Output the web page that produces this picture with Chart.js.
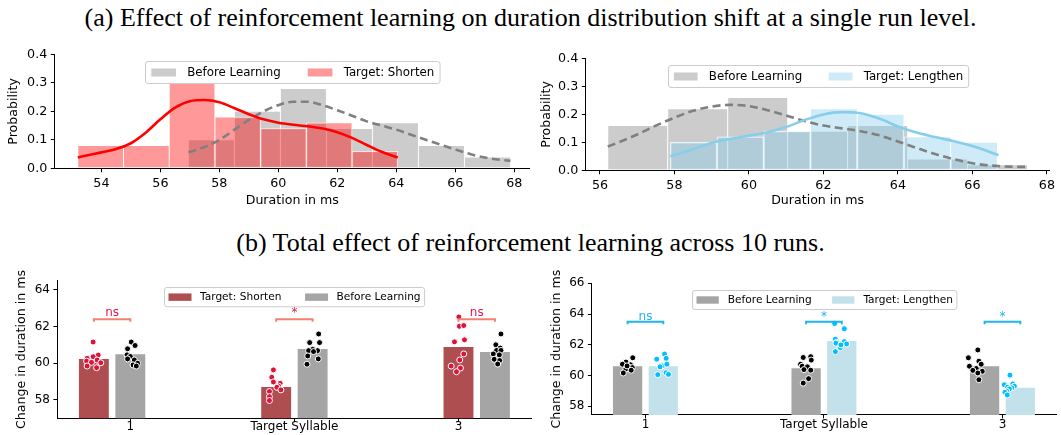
<!DOCTYPE html>
<html>
<head>
<meta charset="utf-8">
<script src="https://cdn.jsdelivr.net/npm/chart.js@4.4.1/dist/chart.umd.min.js"></script>
<style>
  body { margin: 0; background: #fff; width: 1061px; height: 435px; position: relative; overflow: hidden; }
  canvas { position: absolute; }
  .title { position: absolute; left: 0; width: 1061px; text-align: center; font-family: "Liberation Serif", serif; font-size: 26px; line-height: 30px; color: #000; white-space: nowrap; }
</style>
</head>
<body>
<div class="title" style="top:3px">(a) Effect of reinforcement learning on duration distribution shift at a single run level.</div>
<div class="title" style="top:228px">(b) Total effect of reinforcement learning across 10 runs.</div>
<canvas id="histShorten" width="536" height="175" style="left:0;top:40px"></canvas>
<canvas id="histLengthen" width="531" height="175" style="left:530px;top:40px"></canvas>
<canvas id="runsShorten" width="540" height="180" style="left:0;top:255px"></canvas>
<canvas id="runsLengthen" width="531" height="180" style="left:530px;top:255px"></canvas>
<script>
Chart.defaults.font.family = '"DejaVu Sans", sans-serif';
Chart.defaults.font.size = 12;
Chart.defaults.color = '#000';

// ---------- (a) one run: duration histograms (bin edges + probability per bin) ----------
const shortenBeforeEdges = [56.95, 58.51, 60.07, 61.63, 63.19, 64.75, 66.31, 67.87];
const shortenBeforeProb  = [0.10, 0.20, 0.28, 0.14, 0.16, 0.08, 0.04];
const shortenAfterEdges  = [53.20, 54.75, 56.30, 57.85, 59.40, 60.95, 62.50, 64.05];
const shortenAfterProb   = [0.08, 0.08, 0.30, 0.18, 0.14, 0.16, 0.06];

const shortenBeforeKdeX = [56.95, 57.5, 58.0, 58.5, 59.0, 59.5, 60.0, 60.5, 61.0, 61.5, 62.0, 62.5, 63.0, 63.5, 64.0, 64.5, 65.0, 65.5, 66.0, 66.5, 67.0, 67.5, 67.87];
const shortenBeforeKdeY = [0.056, 0.075, 0.100, 0.135, 0.170, 0.200, 0.222, 0.234, 0.234, 0.222, 0.204, 0.185, 0.165, 0.150, 0.136, 0.118, 0.100, 0.083, 0.066, 0.050, 0.038, 0.030, 0.026];
const shortenAfterKdeX  = [53.2, 53.5, 54.0, 54.5, 55.0, 55.5, 56.0, 56.5, 57.0, 57.5, 58.0, 58.5, 59.0, 59.5, 60.0, 60.5, 61.0, 61.5, 62.0, 62.5, 63.0, 63.5, 64.05];
const shortenAfterKdeY  = [0.038, 0.045, 0.056, 0.068, 0.088, 0.125, 0.172, 0.213, 0.236, 0.240, 0.232, 0.212, 0.190, 0.172, 0.160, 0.153, 0.148, 0.140, 0.127, 0.107, 0.082, 0.058, 0.038];

const lengthenBeforeEdges = [56.21, 57.82, 59.43, 61.04, 62.65, 64.26, 65.87, 67.48];
const lengthenBeforeProb  = [0.16, 0.22, 0.26, 0.14, 0.16, 0.04, 0.02];
const lengthenAfterEdges  = [57.89, 59.14, 60.40, 61.65, 62.91, 64.16, 65.42, 66.67];
const lengthenAfterProb   = [0.10, 0.12, 0.14, 0.22, 0.20, 0.12, 0.10];

const lengthenBeforeKdeX = [56.21, 56.5, 57.0, 57.5, 58.0, 58.5, 59.0, 59.5, 60.0, 60.5, 61.0, 61.5, 62.0, 62.5, 63.0, 63.5, 64.0, 64.5, 65.0, 65.5, 66.0, 66.5, 67.0, 67.48];
const lengthenBeforeKdeY = [0.085, 0.100, 0.128, 0.160, 0.188, 0.213, 0.228, 0.234, 0.230, 0.215, 0.196, 0.176, 0.160, 0.150, 0.140, 0.125, 0.103, 0.080, 0.058, 0.040, 0.025, 0.017, 0.013, 0.012];
const lengthenAfterKdeX  = [57.89, 58.5, 59.0, 59.5, 60.0, 60.5, 61.0, 61.5, 62.0, 62.5, 63.0, 63.5, 64.0, 64.5, 65.0, 65.5, 66.0, 66.5, 66.7];
const lengthenAfterKdeY  = [0.050, 0.075, 0.098, 0.112, 0.124, 0.136, 0.155, 0.180, 0.200, 0.208, 0.204, 0.185, 0.157, 0.135, 0.119, 0.104, 0.087, 0.064, 0.054];

const probTicks = [0, 0.1, 0.2, 0.3, 0.4];
const shortenDurTicks = [54, 56, 58, 60, 62, 64, 66, 68];
const lengthenDurTicks = [56, 58, 60, 62, 64, 66, 68];

// ---------- (b) ten runs: mean bars and per-run durations ----------
const syllables = ['1', 'Target Syllable', '3'];
const groupPos = [0, 1, 2];
const barShift = 0.1;
const shortenTickPos = [0.1, 1, 1.9];
const lengthenTickPos = [0, 1, 2];

const shortenMeans = [60.23, 58.71, 60.89];
const shortenBaseMeans = [60.50, 60.78, 60.62];
const lengthenBaseMeans = [60.60, 60.47, 60.60];
const lengthenMeans = [60.60, 62.25, 59.20];

const shortenRuns = [
  [61.16, 60.45, 60.36, 60.27, 60.18, 60.12, 60.05, 60.03, 59.85, 59.76],
  [59.64, 59.24, 58.98, 58.91, 58.76, 58.69, 58.55, 58.46, 58.18, 57.97],
  [62.53, 62.02, 62.06, 61.28, 61.17, 60.51, 60.18, 59.85, 59.74, 59.54]
];
const shortenJitter = [
  [-0.004, 0.024, -0.004, -0.037, 0.018, -0.040, -0.013, 0.038, -0.037, 0.015],
  [-0.015, -0.024, -0.015, 0.022, 0.013, 0.004, 0.026, -0.037, -0.037, -0.037],
  [0.002, 0.005, 0.029, 0.033, -0.022, 0.029, 0.007, -0.040, 0.011, -0.011]
];
const shortenBaseRuns = [
  [61.16, 60.97, 60.79, 60.46, 60.37, 60.24, 60.18, 60.00, 59.91, 59.85],
  [61.60, 61.13, 61.13, 60.76, 60.69, 60.69, 60.64, 60.40, 60.24, 59.95],
  [61.60, 61.01, 60.83, 60.70, 60.70, 60.51, 60.46, 60.22, 60.15, 59.96]
];
const shortenBaseJitter = [
  [0.005, 0.026, -0.015, -0.018, 0.000, -0.015, 0.022, 0.040, 0.015, 0.033],
  [0.033, -0.016, 0.038, 0.000, -0.022, 0.027, 0.005, -0.027, 0.031, -0.031],
  [0.033, 0.005, 0.029, 0.009, 0.033, -0.009, 0.024, -0.004, 0.026, 0.015]
];
const lengthenBaseRuns = [
  [61.15, 60.87, 60.73, 60.69, 60.56, 60.51, 60.42, 60.34, 60.16, 60.62],
  [61.22, 61.17, 61.00, 60.73, 60.60, 60.56, 60.38, 60.34, 59.79, 59.50],
  [61.66, 61.15, 60.93, 60.73, 60.60, 60.45, 60.33, 60.27, 60.16, 59.72]
];
const lengthenBaseJitter = [
  [0.029, -0.009, -0.029, 0.016, 0.005, 0.026, -0.010, 0.020, -0.024, -0.003],
  [0.026, -0.016, 0.029, -0.031, -0.022, 0.007, -0.012, 0.026, 0.014, -0.016],
  [-0.038, -0.091, -0.032, -0.019, -0.085, -0.047, -0.066, -0.013, -0.038, -0.032]
];
const lengthenRuns = [
  [61.39, 61.06, 61.11, 60.67, 60.62, 60.73, 60.05, 60.18, 60.07, 60.56],
  [63.38, 63.04, 62.36, 62.16, 62.20, 62.05, 61.81, 61.55, 62.10, 61.99],
  [60.02, 59.45, 59.39, 59.30, 59.23, 59.19, 59.12, 58.97, 58.90, 58.73]
];
const lengthenJitter = [
  [0.007, -0.037, 0.016, -0.012, -0.005, 0.020, -0.031, 0.016, 0.029, -0.018],
  [-0.040, 0.014, -0.036, -0.029, 0.014, 0.027, -0.008, -0.036, -0.033, -0.005],
  [-0.058, -0.042, -0.090, -0.033, -0.071, -0.048, -0.061, -0.076, -0.086, -0.073]
];

const shortenSig = ['ns', '*', 'ns'];
const lengthenSig = ['ns', '*', '*'];
const shortenSigLevel = 62.4;
const lengthenSigLevel = 63.5;

// ---------- helpers ----------
const binCentres = edges => edges.slice(0, -1).map((e, i) => (e + edges[i + 1]) / 2);
const histPoints = (edges, probs) => binCentres(edges).map((x, i) => ({ x, y: probs[i] }));
const curvePoints = (xs, ys) => xs.map((x, i) => ({ x, y: ys[i] }));
const barPoints = (means, shift) => means.map((m, i) => ({ x: groupPos[i] + shift, y: m }));
const runPoints = (runs, jitter, shift) =>
  runs.flatMap((vals, g) => vals.map((v, k) => ({ x: groupPos[g] + shift + jitter[g][k], y: v })));

function linearAxis({ min, max, ticks, labels, fmt, width, height, title, size = 12, pad = 4, tickLen = 4, display = true }) {
  return {
    type: 'linear', display, min, max, offset: false,
    afterBuildTicks: s => { s.ticks = ticks.map(v => ({ value: v })); },
    afterFit: s => {
      if (width !== undefined) s.width = width;
      if (height !== undefined) s.height = height;
    },
    grid: { display: true, drawOnChartArea: false, drawTicks: true, tickLength: tickLen, color: '#000', lineWidth: 1, offset: false },
    border: { display: true, color: '#000', width: 1 },
    ticks: {
      padding: pad, autoSkip: false, maxRotation: 0, minRotation: 0, color: '#000',
      font: { size },
      callback: (v, i) => labels ? labels[i] : fmt(v)
    },
    title: title
      ? { display: true, text: title, color: '#000', font: { size: 12.6, lineHeight: 1.2 }, padding: 0 }
      : { display: false }
  };
}

// framed legend inside the plot area, centred near the top
function boxLegend(cfg) {
  return {
    id: 'boxLegend',
    afterDatasetsDraw(chart) {
      const { ctx, chartArea: area } = chart;
      const items = chart.data.datasets.filter(d => d.type === 'bar');
      ctx.save();
      ctx.font = cfg.size + 'px "DejaVu Sans"';
      const widths = items.map(d => ctx.measureText(d.label).width);
      const total = cfg.pad * 2 + items.length * (cfg.handle + cfg.gap) +
        widths.reduce((a, b) => a + b, 0) + cfg.colGap * (items.length - 1);
      const x0 = Math.round((area.left + area.right) / 2 - total / 2) + 0.5;
      const y0 = Math.round(area.top + cfg.offset) + 0.5;
      ctx.beginPath();
      ctx.roundRect(x0, y0, total, cfg.height, 2.5);
      ctx.fillStyle = 'rgba(255,255,255,0.8)';
      ctx.fill();
      ctx.strokeStyle = '#cccccc';
      ctx.lineWidth = 1;
      ctx.stroke();
      const cy = y0 + cfg.height / 2;
      let x = x0 + cfg.pad;
      ctx.textAlign = 'left';
      ctx.textBaseline = 'middle';
      items.forEach((d, i) => {
        ctx.fillStyle = '#fff';
        ctx.fillRect(x, cy - cfg.handleH / 2, cfg.handle, cfg.handleH);
        ctx.fillStyle = d.backgroundColor;
        ctx.fillRect(x, cy - cfg.handleH / 2, cfg.handle, cfg.handleH);
        x += cfg.handle + cfg.gap;
        ctx.fillStyle = '#000';
        ctx.fillText(d.label, x, cy + 0.5);
        x += widths[i] + cfg.colGap;
      });
      ctx.restore();
    }
  };
}

// significance brackets between the two bars of every group
function sigBrackets(cfg) {
  return {
    id: 'sigBrackets',
    afterDatasetsDraw(chart) {
      const { ctx, scales: { x, y } } = chart;
      const yy = y.getPixelForValue(cfg.level);
      ctx.save();
      cfg.labels.forEach((txt, i) => {
        const x1 = x.getPixelForValue(groupPos[i] - barShift);
        const x2 = x.getPixelForValue(groupPos[i] + barShift);
        ctx.strokeStyle = cfg.lineColor;
        ctx.lineWidth = 2;
        ctx.beginPath();
        ctx.moveTo(x1, yy + 2.5);
        ctx.lineTo(x1, yy);
        ctx.lineTo(x2, yy);
        ctx.lineTo(x2, yy + 2.5);
        ctx.stroke();
        ctx.fillStyle = cfg.textColor;
        ctx.font = '12px "DejaVu Sans"';
        ctx.textAlign = 'center';
        ctx.textBaseline = 'alphabetic';
        ctx.fillText(txt, (x1 + x2) / 2, yy - cfg.textGap);
      });
      ctx.restore();
    }
  };
}

const histBar = (label, data, color, axis, order) => ({
  type: 'bar', label, data, xAxisID: axis, order, grouped: false,
  backgroundColor: color, borderColor: 'rgba(255,255,255,0.85)', borderWidth: 0.8,
  borderSkipped: false, categoryPercentage: 1, barPercentage: 1
});
const kdeLine = (data, color, dash, order) => ({
  type: 'line', data, xAxisID: 'x', order, borderColor: color, borderWidth: 2.6,
  borderDash: dash, pointRadius: 0, fill: false, cubicInterpolationMode: 'monotone'
});
const meanBar = (label, data, color, order) => ({
  type: 'bar', label, data, order, grouped: false, backgroundColor: color,
  borderWidth: 0, categoryPercentage: 1, barPercentage: 0.82
});
const runDots = (data, color, order) => ({
  type: 'line', data, order, showLine: false, pointRadius: 3, pointBorderWidth: 1,
  pointBackgroundColor: color, pointBorderColor: '#fff'
});

const baseOptions = padding => ({
  responsive: false, animation: false, events: [],
  layout: { padding },
  plugins: { legend: { display: false }, tooltip: { enabled: false } }
});

const fmt1 = v => v.toFixed(1);
const fmt0 = v => String(v);

// ---------- (a) left: target shorten ----------
new Chart(document.getElementById('histShorten'), {
  type: 'bar',
  data: {
    datasets: [
      histBar('Before Learning', histPoints(shortenBeforeEdges, shortenBeforeProb), 'rgba(128,128,128,0.4)', 'xb', 4),
      histBar('Target: Shorten', histPoints(shortenAfterEdges, shortenAfterProb), 'rgba(255,0,0,0.4)', 'x', 3),
      kdeLine(curvePoints(shortenBeforeKdeX, shortenBeforeKdeY), '#808080', [8, 4.5], 1),
      kdeLine(curvePoints(shortenAfterKdeX, shortenAfterKdeY), '#ff0000', [], 0)
    ]
  },
  options: Object.assign(baseOptions({ left: 6, right: 6.4, top: 14.5, bottom: 6.7 }), {
    scales: {
      x: linearAxis({ min: 52.42, max: 68.52, ticks: shortenDurTicks, fmt: fmt0, height: 40, title: 'Duration in ms', size: 12.7, pad: 3.5 }),
      xb: linearAxis({ min: 52.42, max: 68.52, ticks: shortenDurTicks, fmt: fmt0, display: false }),
      y: linearAxis({ min: 0, max: 0.4, ticks: probTicks, fmt: fmt1, width: 48.8, title: 'Probability', size: 12.7, pad: 3.5 })
    }
  }),
  plugins: [boxLegend({ size: 11.8, pad: 5.8, handle: 24.7, handleH: 8, gap: 11.2, colGap: 27, height: 22, offset: 6.8 })]
});

// ---------- (a) right: target lengthen ----------
new Chart(document.getElementById('histLengthen'), {
  type: 'bar',
  data: {
    datasets: [
      histBar('Before Learning', histPoints(lengthenBeforeEdges, lengthenBeforeProb), 'rgba(128,128,128,0.4)', 'xb', 4),
      histBar('Target: Lengthen', histPoints(lengthenAfterEdges, lengthenAfterProb), 'rgba(135,206,235,0.4)', 'x', 3),
      kdeLine(curvePoints(lengthenBeforeKdeX, lengthenBeforeKdeY), '#808080', [8, 4.5], 1),
      kdeLine(curvePoints(lengthenAfterKdeX, lengthenAfterKdeY), '#87ceeb', [], 0)
    ]
  },
  options: Object.assign(baseOptions({ left: 9.4, right: 11.5, top: 18.5, bottom: 6.5 }), {
    scales: {
      x: linearAxis({ min: 55.62, max: 68.07, ticks: lengthenDurTicks, fmt: fmt0, height: 38.2, title: 'Duration in ms', size: 12.7, pad: 3.5 }),
      xb: linearAxis({ min: 55.62, max: 68.07, ticks: lengthenDurTicks, fmt: fmt0, display: false }),
      y: linearAxis({ min: 0, max: 0.4, ticks: probTicks, fmt: fmt1, width: 46.4, title: 'Probability', size: 12.7, pad: 3.5 })
    }
  }),
  plugins: [boxLegend({ size: 11.8, pad: 5.4, handle: 23.7, handleH: 8, gap: 11.2, colGap: 26.4, height: 22, offset: 6.2 })]
});

// ---------- (b) left: target shorten, 10 runs ----------
new Chart(document.getElementById('runsShorten'), {
  type: 'bar',
  data: {
    datasets: [
      meanBar('Target: Shorten', barPoints(shortenMeans, -barShift), '#ae4e50', 3),
      meanBar('Before Learning', barPoints(shortenBaseMeans, barShift), '#a5a5a5', 2),
      runDots(runPoints(shortenRuns, shortenJitter, -barShift), '#dc143c', 1),
      runDots(runPoints(shortenBaseRuns, shortenBaseJitter, barShift), '#000000', 0)
    ]
  },
  options: Object.assign(baseOptions({ left: 14.5, right: 8.6, top: 25.8, bottom: 0 }), {
    scales: {
      x: linearAxis({ min: -0.3, max: 2.3, ticks: shortenTickPos, labels: syllables, height: 16.7, pad: -2, tickLen: 3.5 }),
      y: linearAxis({ min: 57, max: 64.5, ticks: [58, 60, 62, 64], fmt: fmt0, width: 42.9, title: 'Change in duration in ms', pad: 3.5 })
    }
  }),
  plugins: [
    boxLegend({ size: 10.6, pad: 4, handle: 23, handleH: 7.4, gap: 8.5, colGap: 23.7, height: 19.3, offset: 6.1 }),
    sigBrackets({ labels: shortenSig, level: shortenSigLevel, lineColor: '#f4806f', textColor: '#e0194a', textGap: 3 })
  ]
});

// ---------- (b) right: target lengthen, 10 runs ----------
new Chart(document.getElementById('runsLengthen'), {
  type: 'bar',
  data: {
    datasets: [
      meanBar('Before Learning', barPoints(lengthenBaseMeans, -barShift), '#a5a5a5', 3),
      meanBar('Target: Lengthen', barPoints(lengthenMeans, barShift), '#c3e1ea', 2),
      runDots(runPoints(lengthenBaseRuns, lengthenBaseJitter, -barShift), '#000000', 1),
      runDots(runPoints(lengthenRuns, lengthenJitter, barShift), '#00bfff', 0)
    ]
  },
  options: Object.assign(baseOptions({ left: 19.5, right: 4.6, top: 28.3, bottom: 0 }), {
    scales: {
      x: linearAxis({ min: -0.3, max: 2.3, ticks: lengthenTickPos, labels: syllables, height: 20.1, pad: -1, tickLen: 3.5 }),
      y: linearAxis({ min: 57.43, max: 66, ticks: [58, 60, 62, 64, 66], fmt: fmt0, width: 42.4, title: 'Change in duration in ms', pad: 3.5 })
    }
  }),
  plugins: [
    boxLegend({ size: 10.6, pad: 4, handle: 22.3, handleH: 7.4, gap: 9, colGap: 20.3, height: 19, offset: 6.4 }),
    sigBrackets({ labels: lengthenSig, level: lengthenSigLevel, lineColor: '#1eb4f0', textColor: '#1eb4f0', textGap: 2 })
  ]
});
</script>
</body>
</html>
